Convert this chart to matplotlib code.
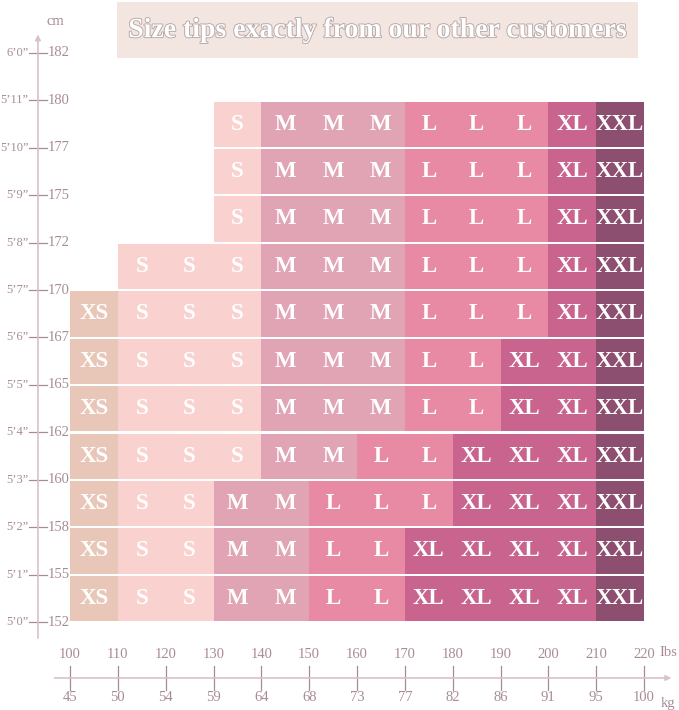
import matplotlib
matplotlib.use("Agg")
import matplotlib.pyplot as plt
import matplotlib.patheffects as pe

# ---- data ----
cm_labels = [152, 155, 158, 160, 162, 165, 167, 170, 172, 175, 177, 180, 182]
inch_labels = ["5’0”", "5’1”", "5’2”", "5’3”", "5’4”", "5’5”", "5’6”", "5’7”",
               "5’8”", "5’9”", "5’10”", "5’11”", "6’0”"]
lbs_ticks = [100, 110, 120, 130, 140, 150, 160, 170, 180, 190, 200, 210, 220]
kg_ticks = [45, 50, 54, 59, 64, 68, 73, 77, 82, 86, 91, 95, 100]

# rows from bottom (152-155 cm) to top (177-180 cm); '' = empty cell
rows = [
    ["XS", "S", "S", "M", "M", "L", "L", "XL", "XL", "XL", "XL", "XXL"],
    ["XS", "S", "S", "M", "M", "L", "L", "XL", "XL", "XL", "XL", "XXL"],
    ["XS", "S", "S", "M", "M", "L", "L", "L", "XL", "XL", "XL", "XXL"],
    ["XS", "S", "S", "S", "M", "M", "L", "L", "XL", "XL", "XL", "XXL"],
    ["XS", "S", "S", "S", "M", "M", "M", "L", "L", "XL", "XL", "XXL"],
    ["XS", "S", "S", "S", "M", "M", "M", "L", "L", "XL", "XL", "XXL"],
    ["XS", "S", "S", "S", "M", "M", "M", "L", "L", "L", "XL", "XXL"],
    ["", "S", "S", "S", "M", "M", "M", "L", "L", "L", "XL", "XXL"],
    ["", "", "", "S", "M", "M", "M", "L", "L", "L", "XL", "XXL"],
    ["", "", "", "S", "M", "M", "M", "L", "L", "L", "XL", "XXL"],
    ["", "", "", "S", "M", "M", "M", "L", "L", "L", "XL", "XXL"],
]
size_colors = {"XS": "#E8C6B8", "S": "#F9D2D0", "M": "#E0A4B4",
               "L": "#E88AA4", "XL": "#C9648F", "XXL": "#8D4F70"}
title = "Size tips exactly from our other customers"

# ---- figure ----
W, H, DPI = 679, 710, 100
fig = plt.figure(figsize=(W / DPI, H / DPI), dpi=DPI)
ax = fig.add_axes([0, 0, 1, 1])
px_per_lb = 574 / 120.0
px_per_row = 47.42
ax.set_xlim(100 - 70 / px_per_lb, 100 + (W - 70) / px_per_lb)
ax.set_ylim((622 - H) / px_per_row, 622 / px_per_row)
ax.axis("off")

serif = ["Liberation Serif", "DejaVu Serif"]
axis_col = "#D9C3C6"
lab_col = "#A88C92"

# cells
for r, row in enumerate(rows):
    for c, size in enumerate(row):
        if not size:
            continue
        x0 = lbs_ticks[0] + c * 10
        ax.bar(x0, 0.955, width=10, bottom=r + 0.02, align="edge",
               color=size_colors[size], linewidth=0)
        ax.text(x0 + 5, r + 0.5, size, ha="center", va="center",
                color="white", fontsize=16.5, fontweight="bold", family=serif)

# left axis
ax.annotate("", xy=(93.3, 12.45), xytext=(93.3, -0.4),
            arrowprops=dict(arrowstyle="-|>", color=axis_col, lw=1.2,
                            mutation_scale=8))
for i, (cmv, inch) in enumerate(zip(cm_labels, inch_labels)):
    ax.plot([91.4, 95.2], [i, i], color=lab_col, lw=0.9)
    ax.text(91.3, i, inch, ha="right", va="center", color=lab_col,
            fontsize=9, family=serif)
    ax.text(95.4, i, str(cmv), ha="left", va="center", color=lab_col,
            fontsize=10.5, family=serif)
ax.text(97.0, 12.66, "cm", ha="center", va="center", color=lab_col,
        fontsize=10.5, family=serif)

# bottom axis
ax.annotate("", xy=(226.3, -1.18), xytext=(96.2, -1.18),
            arrowprops=dict(arrowstyle="-|>", color=axis_col, lw=1.2,
                            mutation_scale=8))
for lb, kg in zip(lbs_ticks, kg_ticks):
    ax.plot([lb, lb], [-0.93, -1.43], color=lab_col, lw=0.9)
    ax.text(lb, -0.69, str(lb), ha="center", va="center", color=lab_col,
            fontsize=10.5, family=serif)
    ax.text(lb, -1.6, str(kg), ha="center", va="center", color=lab_col,
            fontsize=10.5, family=serif)
ax.text(225.0, -0.64, "Ibs", ha="center", va="center", color=lab_col,
        fontsize=10.5, family=serif)
ax.text(225.0, -1.72, "kg", ha="center", va="center", color=lab_col,
        fontsize=10.5, family=serif)

# title box
ax.bar(109.8, 13.07 - 11.89, width=218.8 - 109.8, bottom=11.89, align="edge",
       color="#F3E5E0", linewidth=0)
ax.text(164.3, 12.47, title, ha="center", va="center", color="white",
        fontsize=20, fontweight="bold", family=serif,
        path_effects=[pe.withStroke(linewidth=1.3, foreground="#B5A7A7")])

fig.savefig("out.png", dpi=DPI)
